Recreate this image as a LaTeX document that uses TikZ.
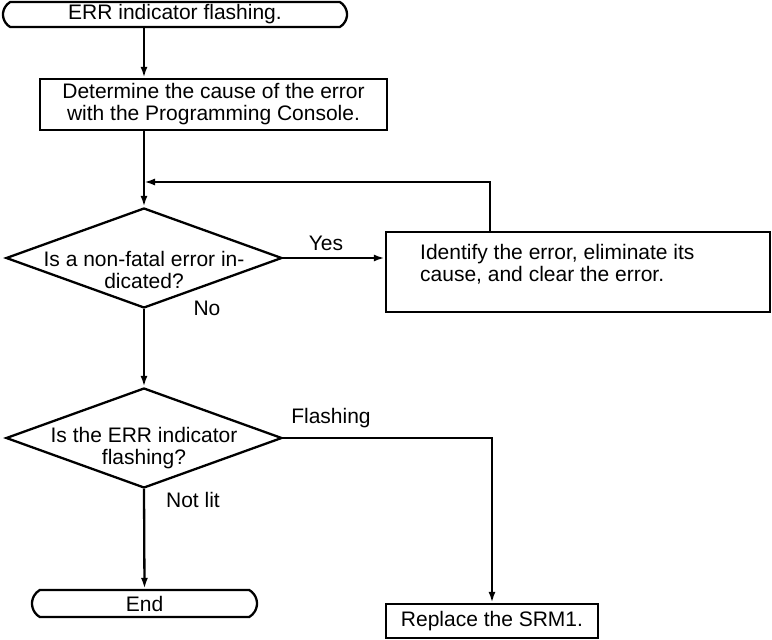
\documentclass[tikz,border=0pt]{standalone}
\usepackage{fontspec}
\setmainfont{Liberation Sans}
\usetikzlibrary{shapes.geometric,shapes.misc,arrows.meta}
\begin{document}
\begin{tikzpicture}[x=1pt,y=-1pt,
  every node/.style={font=\fontsize{21}{22}\selectfont, inner sep=0pt},
  term/.style={draw, line width=2.3pt, rounded rectangle, rounded rectangle arc length=120},
  procbox/.style={draw, line width=2.3pt, rectangle},
  decide/.style={draw, line width=2.3pt, diamond},
  arr/.style={line width=2.3pt, -{Latex[length=11pt,width=7pt]}},
  lbl/.style={font=\fontsize{21}{22}\selectfont}
]
\useasboundingbox (0,0) rectangle (772,640);
% nodes
\node[term, minimum width=344pt, minimum height=25pt] (start) at (175,14.5) {ERR indicator flashing.};
\node[procbox, minimum width=347pt, minimum height=51pt, align=center] (box1) at (213.5,104.5)
  {Determine the cause of the error\\with the Programming Console.};
\node[decide, minimum width=276pt, minimum height=100pt] (d1) at (144,258) {};
\node[align=center] (d1t) at (144,270) {Is a non-fatal error in-\\dicated?};
\node[procbox, minimum width=384pt, minimum height=80pt] (box2) at (578,272) {};
\node[align=left, anchor=north west] (box2t) at (420,244) {Identify the error, eliminate its\\cause, and clear the error.};
\node[decide, minimum width=276pt, minimum height=100pt] (d2) at (144,438) {};
\node[align=center] (d2t) at (144,448) {Is the ERR indicator\\flashing?};
\node[term, minimum width=225pt, minimum height=27pt] (end) at (144.5,603.5) {End};
\node[procbox, minimum width=212pt, minimum height=34pt] (rep) at (492,621) {Replace the SRM1.};
\coordinate (loopc) at (490,182);
% labels
\node[lbl] (yes) at (326,243) {Yes};
\node[lbl] (no) at (207,308) {No};
\node[lbl] (flash) at (331,418) {Flashing};
\node[lbl] (notlit) at (193,500) {Not lit};
% connectors
\draw[arr] (start.south -| d1.north) -- (box1.north -| d1.north);
\draw[arr] (box1.south -| d1.north) -- (d1.north);
\draw[arr] (box2.north -| loopc) -- (loopc) -- (loopc -| d1.north);
\draw[arr] (d1.east) -- (d1.east -| box2.west);
\draw[arr] (d1.south) -- (d2.north);
\draw[arr] (d2.east) -| (rep.north);
\draw[arr] (d2.south) -- (end.north);
\end{tikzpicture}
\end{document}
